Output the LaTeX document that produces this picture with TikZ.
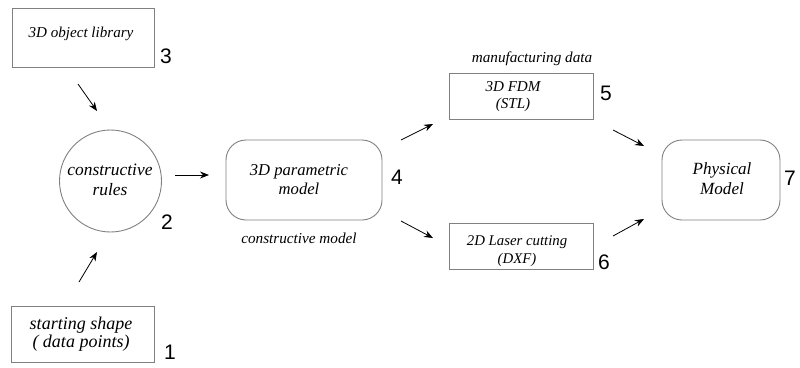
\documentclass[tikz,border=0pt]{standalone}
\usepackage{fontspec}
\setmainfont{Liberation Serif}
\newfontfamily\labfont{Liberation Sans}
\usetikzlibrary{arrows.meta}
\newcommand\fz[2]{\itshape\fontsize{#1}{#2}\selectfont}
\begin{document}
\begin{tikzpicture}[x=1pt,y=-1pt,
  box/.style={draw=black!50,line width=0.9pt,inner sep=0pt},
  rbox/.style={box,rounded corners=20pt},
  cbox/.style={box,circle},
  txt/.style={inner sep=0pt,align=center},
  num/.style={font=\labfont\fontsize{21}{21}\selectfont,inner sep=0pt},
  captxt/.style={font=\fz{15.2}{17},inner sep=0pt},
  arr/.style={-{Stealth[length=9pt,width=7pt]},line width=0.8pt}]
\useasboundingbox (0,0) rectangle (800,367);
% nodes
\node[box,minimum width=142pt,minimum height=59pt] (b3) at (83,37.5) {};
\node[txt,font=\fz{15.1}{18}] (t3) at (81,34) {3D object library};
\node[num] (n3) at (166,56) {3};

\node[cbox,minimum size=102pt] (b2) at (110.5,181) {};
\node[txt,font=\fz{17.4}{20}] (t2) at (110,180) {constructive\\rules};
\node[num] (n2) at (167,222) {2};

\node[box,minimum width=143pt,minimum height=56pt] (b1) at (82.5,334) {};
\node[txt,font=\fz{18}{17.5}] (t1) at (81,334) {starting shape\\( data points)};
\node[num] (n1) at (170,352) {1};

\node[rbox,minimum width=156pt,minimum height=80pt] (b4) at (304,180) {};
\node[txt,font=\fz{16.6}{19}] (t4) at (299,180) {3D parametric\\model};
\node[num] (n4) at (397,177) {4};
\node[captxt] (c4) at (299,238) {constructive model};

\node[box,minimum width=144pt,minimum height=46pt] (b5) at (521,96) {};
\node[txt,font=\fz{15.1}{17}] (t5) at (513,97) {3D FDM\\(STL)};
\node[num] (n5) at (606,93) {5};
\node[captxt] (c5) at (532,59) {manufacturing data};

\node[box,minimum width=144pt,minimum height=46pt] (b6) at (521,246) {};
\node[txt,font=\fz{14.8}{18}] (t6) at (517,251) {2D Laser cutting\\(DXF)};
\node[num] (n6) at (604,262) {6};

\node[rbox,minimum width=118pt,minimum height=80pt] (b7) at (721,180) {};
\node[txt,font=\fz{17.1}{20}] (t7) at (722,179) {Physical\\Model};
\node[num] (n7) at (790,178) {7};

% connector end points
\coordinate (a3s) at (78,84);   \coordinate (a3e) at (97,111);
\coordinate (a1s) at (79,282);  \coordinate (a1e) at (97,252);
\coordinate (a2s) at (175,175); \coordinate (a2e) at (209,175);
\coordinate (a45s) at (401,140); \coordinate (a45e) at (433,124);
\coordinate (a46s) at (401,221); \coordinate (a46e) at (433,238);
\coordinate (a57s) at (613,130); \coordinate (a57e) at (644,146);
\coordinate (a67s) at (613,236); \coordinate (a67e) at (644,219);

\draw[arr] (a3s) -- (a3e);
\draw[arr] (a1s) -- (a1e);
\draw[arr] (a2s) -- (a2e);
\draw[arr] (a45s) -- (a45e);
\draw[arr] (a46s) -- (a46e);
\draw[arr] (a57s) -- (a57e);
\draw[arr] (a67s) -- (a67e);
\end{tikzpicture}
\end{document}
